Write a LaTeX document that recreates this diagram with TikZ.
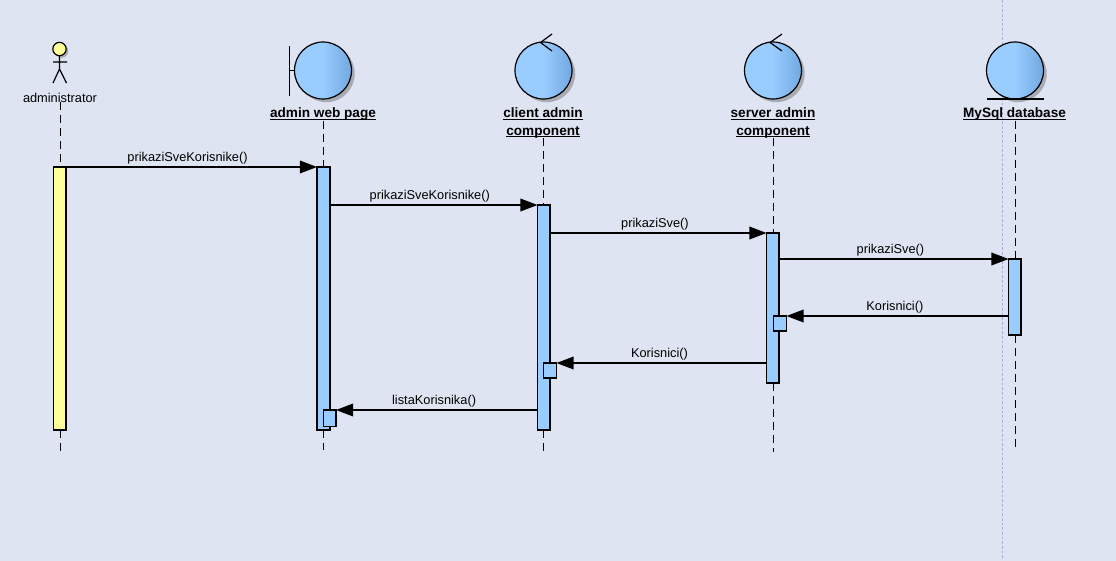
\documentclass[tikz,border=0pt]{standalone}
\usepackage{fontspec}
\setmainfont{Liberation Sans}
\usetikzlibrary{arrows.meta,shadows,positioning,calc}
\definecolor{bgc}{HTML}{DFE4F2}
\definecolor{bluec}{HTML}{99CCFF}
\definecolor{blued}{HTML}{70A8E0}
\definecolor{yel}{HTML}{FFFF99}
\definecolor{shad}{HTML}{A8ABB2}
\definecolor{guide}{HTML}{ABABDD}
\pgfdeclarehorizontalshading{bub}{100bp}{color(0bp)=(bluec); color(50bp)=(bluec); color(75bp)=(blued); color(100bp)=(blued)}
\newsavebox{\ulbox}
\newcommand{\ult}[1]{\sbox{\ulbox}{#1}\leavevmode\rlap{\rule[-1.6pt]{\wd\ulbox}{0.75pt}}\usebox{\ulbox}}
\tikzset{
  x=0.75pt,y=-0.75pt,
  bubble/.style={circle,draw=black,line width=0.9pt,inner sep=0pt,outer sep=0pt,minimum size=42.75pt,shading=bub,
    general shadow={fill=shad,shadow xshift=2.4pt,shadow yshift=-2.4pt}},
  lbl/.style={font=\fontsize{9.6}{12.5}\selectfont,align=center,inner sep=0pt,text=black},
  objlbl/.style={lbl,font=\fontsize{10.2}{12.9}\selectfont\bfseries},
  act/.style={draw=black,line width=0.9pt,fill=bluec,inner sep=0pt,outer sep=0pt,anchor=north west},
  life/.style={draw=black,line width=0.9pt,dash pattern=on 6pt off 3.75pt},
  msg/.style={draw=black,line width=1pt,-{Triangle[length=12.8pt,width=9.5pt]}},
  mlbl/.style={lbl,anchor=south,midway,above=1.5pt},
  glyph/.style={draw=black,line width=0.9pt},
}
\newcommand{\actbox}[6][bluec]{\node[act,fill=#1,minimum width=#4*0.75pt,minimum height=#5*0.75pt] (#6) at (#2,#3) {};}
\begin{document}
\begin{tikzpicture}
\useasboundingbox (0,0) rectangle (1116,560);
\fill[bgc] (-2,-2) rectangle (1118,562);
\draw[guide,line width=0.6pt,dash pattern=on 2pt off 1.5pt] (1002,0) -- (1002,560);

% actor
\node[circle,draw=black,line width=0.9pt,fill=yel,inner sep=0pt,outer sep=0pt,minimum size=10pt,general shadow={fill=shad,shadow xshift=1.6pt,shadow yshift=-1.6pt}] (head) at (59.5,49) {};
\coordinate (hip) at (59.5,69);
\coordinate (armL) at (53,62);
\coordinate (armR) at (67,62);
\coordinate (footL) at (53,83);
\coordinate (footR) at (66.5,83);
\draw[glyph] (head.south) -- (hip) (armL) -- (armR) (footL) -- (hip) -- (footR);
\node[lbl] (lA) at (60,97.5) {administrator};

% objects
\node[bubble] (oB) at (323,70.5) {};
\coordinate (barT) at (289.5,46);
\coordinate (barB) at (289.5,96);
\draw[glyph] (barT) -- (barB) (289.5,70.5) -- (oB.west);
\node[objlbl] (lB) at (323,114.5) {\ult{admin web page}};

\node[bubble] (oC) at (543.5,70.5) {};
\draw[glyph] (552,34) -- ($(oC.north)+(-3,0.5)$) -- (552,51);
\node[objlbl] (lC) at (543,123) {\ult{client admin}\\\ult{component}};

\node[bubble] (oD) at (773,70.5) {};
\draw[glyph] (782,34) -- ($(oD.north)+(-3,0.5)$) -- (782,51);
\node[objlbl] (lD) at (773,123) {\ult{server admin}\\\ult{component}};

\node[bubble] (oE) at (1015,70.5) {};
\coordinate (gL) at (987,99);
\coordinate (gR) at (1044,99);
\draw[glyph] (gL) -- (gR);
\node[objlbl] (lE) at (1014.5,114) {\ult{MySql database}};

% activations
\actbox[yel]{53.5}{167}{12.5}{263}{aA}
\actbox{317}{167}{13}{263}{aB}
\actbox{537.5}{205}{12.5}{225}{aC}
\actbox{766.5}{233}{12.5}{150}{aD}
\actbox{1008.5}{259}{12.5}{76}{aE}
\actbox{323.5}{410}{12.5}{16.5}{nB}
\actbox{543.5}{363}{13}{15}{nC}
\actbox{773.5}{316}{13}{15}{nD}

% lifelines
\coordinate (endA) at (60.3,452);
\coordinate (endB) at (323.3,450);
\coordinate (endC) at (543.3,452);
\coordinate (endD) at (773.5,452);
\coordinate (endE) at (1015.3,450);
\draw[life] (lA.south -| endA) -- (aA.north -| endA);
\draw[life] (aA.south -| endA) -- (endA);
\draw[life] (lB.south -| endB) -- (aB.north -| endB);
\draw[life] (aB.south -| endB) -- (endB);
\draw[life] (lC.south -| endC) -- (aC.north -| endC);
\draw[life] (aC.south -| endC) -- (endC);
\draw[life] (lD.south -| endD) -- (aD.north -| endD);
\draw[life] (aD.south -| endD) -- (endD);
\draw[life] (lE.south -| endE) -- (aE.north -| endE);
\draw[life] (aE.south -| endE) -- (endE);

% messages
\coordinate (m1) at (0,167);
\coordinate (m2) at (0,205);
\coordinate (m3) at (0,233);
\coordinate (m4) at (0,259);
\coordinate (m5) at (0,316);
\coordinate (m6) at (0,363);
\coordinate (m7) at (0,410);
\draw[msg] (aA.east |- m1) -- (aB.west |- m1) node[mlbl,xshift=-3pt] (t1) {prikaziSveKorisnike()};
\draw[msg] (aB.east |- m2) -- (aC.west |- m2) node[mlbl,xshift=-3pt] (t2) {prikaziSveKorisnike()};
\draw[msg] (aC.east |- m3) -- (aD.west |- m3) node[mlbl,xshift=-2.5pt] (t3) {prikaziSve()};
\draw[msg] (aD.east |- m4) -- (aE.west |- m4) node[mlbl,xshift=-2.5pt] (t4) {prikaziSve()};
\draw[msg] (aE.west |- m5) -- (nD.east |- m5) node[mlbl,xshift=-2pt] (t5) {Korisnici()};
\draw[msg] (aD.west |- m6) -- (nC.east |- m6) node[mlbl,xshift=-1.5pt] (t6) {Korisnici()};
\draw[msg] (aC.west |- m7) -- (nB.east |- m7) node[mlbl,xshift=-2pt] (t7) {listaKorisnika()};
\end{tikzpicture}
\end{document}
